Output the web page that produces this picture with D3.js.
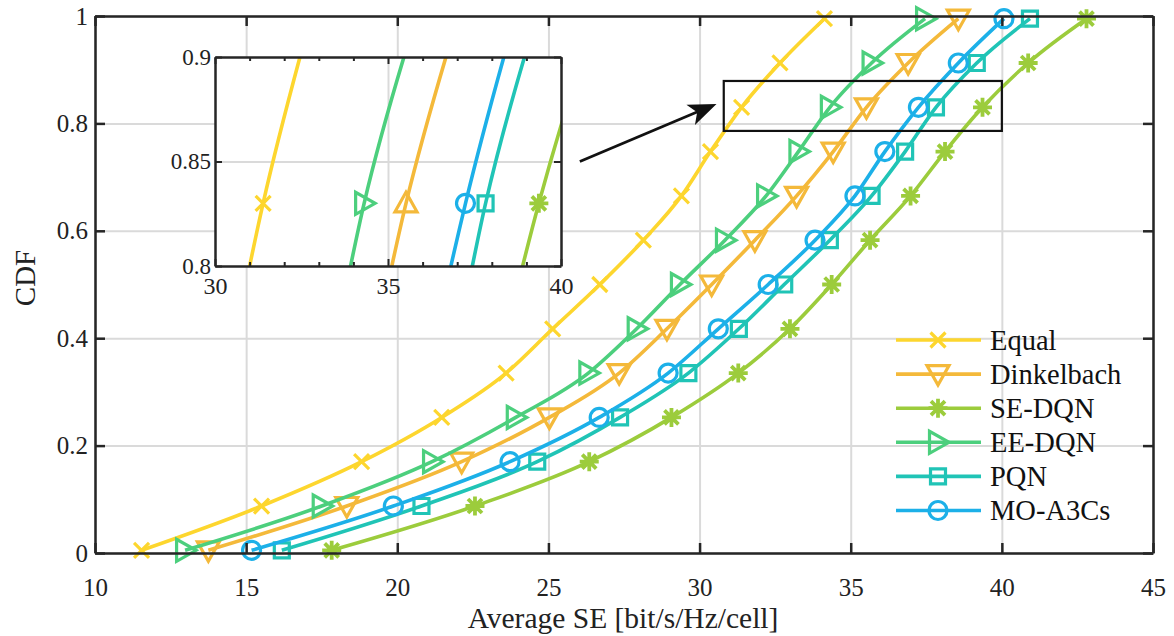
<!DOCTYPE html>
<html>
<head>
<meta charset="utf-8">
<script src="https://cdn.jsdelivr.net/npm/d3@7"></script>
<style>
  body { margin: 0; background: #fff; }
  svg { display: block; font-family: "Liberation Serif", "Times New Roman", serif; }
</style>
</head>
<body>
<div id="chart"></div>
<script>
// CDF level of each plotted marker
var cdfLevels = [0.005, 0.0875, 0.17, 0.2525, 0.335, 0.4175, 0.5, 0.5825, 0.665, 0.7475, 0.83, 0.9125, 0.995];

// Average SE at each level, one array per scheme
var equalSE      = [11.54, 15.51, 18.82, 21.47, 23.6, 25.14, 26.7, 28.14, 29.4, 30.36, 31.39, 32.66, 34.13];
var dinkelbachSE = [13.75, 18.33, 22.13, 25.03, 27.34, 28.92, 30.4, 31.83, 33.21, 34.42, 35.52, 36.9, 38.56];
var seDqnSE      = [17.83, 22.57, 26.35, 29.07, 31.28, 32.99, 34.37, 35.64, 36.98, 38.12, 39.36, 40.87, 42.8];
var eeDqnSE      = [12.98, 17.5, 21.15, 23.92, 26.32, 27.92, 29.35, 30.84, 32.2, 33.27, 34.31, 35.69, 37.46];
var pqnSE        = [16.18, 20.8, 24.63, 27.37, 29.63, 31.3, 32.8, 34.31, 35.69, 36.8, 37.82, 39.17, 40.93];
var moA3csSE     = [15.18, 19.87, 23.73, 26.68, 28.96, 30.62, 32.27, 33.82, 35.14, 36.13, 37.24, 38.56, 40.07];

var seriesNames = ["Equal", "Dinkelbach", "SE-DQN", "EE-DQN", "PQN", "MO-A3Cs"];
var seriesValues = [equalSE, dinkelbachSE, seDqnSE, eeDqnSE, pqnSE, moA3csSE];
var seriesColors = ["#fdd62e", "#f4b93a", "#9ccc3c", "#4ccf7d", "#20c4b6", "#1cb0e8"];
var seriesMarkers = ["x", "triDown", "asterisk", "triRight", "square", "circle"];
var insetMarkers = ["x", "triUp", "asterisk", "triRight", "square", "circle"];

// tick labels
var xTicks = [10, 15, 20, 25, 30, 35, 40, 45];
var yTicks = [0, 0.2, 0.4, 0.6, 0.8, 1];
var insetXTicks = [30, 35, 40];
var insetXMinor = [31, 32, 33, 34, 36, 37, 38, 39];
var insetYTicks = [0.8, 0.85, 0.9];

// zoomed region and arrow (data coordinates)
var zoomBox = {x0: 30.8, x1: 40.0, y0: 0.786, y1: 0.879};
var arrowFrom = [26.04, 0.729];
var arrowTo = [30.56, 0.836];

var svgWidth = 1174;
var svgHeight = 636;
var margin = {top: 16, right: 21, bottom: 83, left: 95};
var width = svgWidth - margin.left - margin.right;
var height = svgHeight - margin.top - margin.bottom;

var svg = d3.select("#chart")
  .append("svg")
  .attr("width", svgWidth)
  .attr("height", svgHeight);

var plot = svg.append("g")
  .attr("transform", `translate(${margin.left}, ${margin.top})`);

var x = d3.scaleLinear().domain([10, 45]).range([0, width]);
var y = d3.scaleLinear().domain([0, 1]).range([height, 0]);

var axisColor = "#262626";
var gridColor = "#dadada";
var lineWidth = 3.6;
var markerStroke = 3.2;

// grid
plot.append("g")
  .call(d3.axisBottom(x).tickValues(xTicks).tickSize(height).tickFormat(""))
  .call(g => g.select(".domain").remove())
  .selectAll("line").attr("stroke", gridColor).attr("stroke-width", 2);
plot.append("g")
  .call(d3.axisLeft(y).tickValues(yTicks).tickSize(-width).tickFormat(""))
  .call(g => g.select(".domain").remove())
  .selectAll("line").attr("stroke", gridColor).attr("stroke-width", 2);

function markerPath(type) {
  switch (type) {
    case "x": return "M-7.5,-7.5L7.5,7.5M-7.5,7.5L7.5,-7.5";
    case "asterisk": return "M-9.5,0L9.5,0M0,-9.5L0,9.5M-7,-7L7,7M-7,7L7,-7";
    case "triDown": return "M-11,-8.5L11,-8.5L0,11Z";
    case "triUp": return "M-11,8.5L11,8.5L0,-11Z";
    case "triRight": return "M-8.5,-11L-8.5,11L11,0Z";
    case "square": return "M-7.5,-7.5H7.5V7.5H-7.5Z";
    case "circle": return "M9,0A9,9,0,1,1,-9,0A9,9,0,1,1,9,0Z";
  }
}

function drawSeries(g, xs, ys, values, color, marker, showMarkers) {
  var pts = values.map((v, i) => [v, cdfLevels[i]]);
  var line = d3.line()
    .x(d => xs(d[0]))
    .y(d => ys(d[1]))
    .curve(d3.curveMonotoneX);
  g.append("path")
    .datum(pts)
    .attr("d", line)
    .attr("fill", "none")
    .attr("stroke", color)
    .attr("stroke-width", lineWidth);
  g.selectAll(null)
    .data(pts.filter((d, i) => showMarkers(i)))
    .enter()
    .append("path")
    .attr("d", markerPath(marker))
    .attr("transform", d => `translate(${xs(d[0])}, ${ys(d[1])})`)
    .attr("fill", "none")
    .attr("stroke", color)
    .attr("stroke-width", marker === "asterisk" ? 3.8 : markerStroke);
}

// series
seriesValues.forEach(function(vals, i) {
  drawSeries(plot, x, y, vals, seriesColors[i], seriesMarkers[i], () => true);
});

// axes box with inward ticks
function styleAxis(g) {
  g.select(".domain").attr("stroke", axisColor).attr("stroke-width", 2.5);
  g.selectAll(".tick line").attr("stroke", axisColor).attr("stroke-width", 2.5);
  g.selectAll("text").attr("fill", "#222").style("font-size", "25px")
    .style("font-family", "'Liberation Serif', 'Times New Roman', serif");
}

plot.append("g")
  .attr("transform", `translate(0, ${height})`)
  .call(d3.axisBottom(x).tickValues(xTicks).tickSize(-10).tickSizeOuter(0).tickPadding(25))
  .call(styleAxis);
plot.append("g")
  .call(d3.axisTop(x).tickValues(xTicks).tickSize(-10).tickSizeOuter(0).tickFormat(""))
  .call(styleAxis);
plot.append("g")
  .call(d3.axisLeft(y).tickValues(yTicks).tickSize(-10).tickSizeOuter(0).tickPadding(7).tickFormat(d3.format("~g")))
  .call(styleAxis);
plot.append("g")
  .attr("transform", `translate(${width}, 0)`)
  .call(d3.axisRight(y).tickValues(yTicks).tickSize(-10).tickSizeOuter(0).tickFormat(""))
  .call(styleAxis);

// axis labels
svg.append("text")
  .attr("x", 623)
  .attr("y", 628)
  .attr("text-anchor", "middle")
  .style("font-size", "29.5px")
  .attr("fill", "#222")
  .text("Average SE [bit/s/Hz/cell]");
svg.append("text")
  .attr("transform", "translate(35, 278) rotate(-90)")
  .attr("text-anchor", "middle")
  .style("font-size", "29px")
  .attr("fill", "#222")
  .text("CDF");

// zoom box and arrow
plot.append("rect")
  .attr("x", x(zoomBox.x0))
  .attr("y", y(zoomBox.y1))
  .attr("width", x(zoomBox.x1) - x(zoomBox.x0))
  .attr("height", y(zoomBox.y0) - y(zoomBox.y1))
  .attr("fill", "none")
  .attr("stroke", "#111")
  .attr("stroke-width", 2.2);

var ax1 = x(arrowFrom[0]), ay1 = y(arrowFrom[1]);
var ax2 = x(arrowTo[0]), ay2 = y(arrowTo[1]);
plot.append("line")
  .attr("x1", ax1).attr("y1", ay1)
  .attr("x2", ax2 - 10).attr("y2", ay2 + 4)
  .attr("stroke", "#111")
  .attr("stroke-width", 2.8);
plot.append("path")
  .attr("d", "M0,0L-28,-11L-21,0L-28,11Z")
  .attr("transform", `translate(${ax2}, ${ay2}) rotate(${Math.atan2(ay2 - ay1, ax2 - ax1) * 180 / Math.PI})`)
  .attr("fill", "#111");

// legend
var legend = plot.append("g").attr("transform", `translate(${896 - margin.left}, ${340 - margin.top})`);
seriesNames.forEach(function(name, i) {
  var row = legend.append("g").attr("transform", `translate(0, ${i * 34.1})`);
  row.append("line")
    .attr("x1", 0).attr("x2", 85)
    .attr("stroke", seriesColors[i])
    .attr("stroke-width", lineWidth);
  row.append("path")
    .attr("d", markerPath(seriesMarkers[i]))
    .attr("transform", "translate(42, 0)")
    .attr("fill", "none")
    .attr("stroke", seriesColors[i])
    .attr("stroke-width", seriesMarkers[i] === "asterisk" ? 3.8 : markerStroke);
  row.append("text")
    .attr("x", 94)
    .attr("dy", "0.35em")
    .style("font-size", "28.5px")
    .attr("fill", "#111")
    .text(name);
});

// inset
var inset = {left: 215, top: 57, right: 561, bottom: 266};
var ix = d3.scaleLinear().domain([30, 40]).range([inset.left, inset.right]);
var iy = d3.scaleLinear().domain([0.8, 0.9]).range([inset.bottom, inset.top]);
var ig = svg.append("g");

ig.append("rect")
  .attr("x", inset.left).attr("y", inset.top)
  .attr("width", inset.right - inset.left)
  .attr("height", inset.bottom - inset.top)
  .attr("fill", "#fff");

ig.append("g")
  .attr("transform", `translate(0, ${inset.top})`)
  .call(d3.axisBottom(ix).tickValues([35]).tickSize(inset.bottom - inset.top).tickFormat(""))
  .call(g => g.select(".domain").remove())
  .selectAll("line").attr("stroke", gridColor).attr("stroke-width", 2);
ig.append("g")
  .attr("transform", `translate(${inset.left}, 0)`)
  .call(d3.axisLeft(iy).tickValues([0.85]).tickSize(-(inset.right - inset.left)).tickFormat(""))
  .call(g => g.select(".domain").remove())
  .selectAll("line").attr("stroke", gridColor).attr("stroke-width", 2);

svg.append("clipPath").attr("id", "insetClip")
  .append("rect")
  .attr("x", inset.left).attr("y", inset.top)
  .attr("width", inset.right - inset.left)
  .attr("height", inset.bottom - inset.top);

var insetData = ig.append("g").attr("clip-path", "url(#insetClip)");
seriesValues.forEach(function(vals, i) {
  drawSeries(insetData, ix, iy, vals, seriesColors[i], insetMarkers[i], idx => cdfLevels[idx] === 0.83);
});

function styleInset(size) {
  return function(g) {
    g.select(".domain").attr("stroke", axisColor).attr("stroke-width", 2.5);
    g.selectAll(".tick line").attr("stroke", axisColor).attr("stroke-width", 2);
    g.selectAll("text").attr("fill", "#222").style("font-size", size)
      .style("font-family", "'Liberation Serif', 'Times New Roman', serif");
  };
}

// minor ticks on inset
[inset.bottom, inset.top].forEach(function(yy, k) {
  ig.append("g")
    .attr("transform", `translate(0, ${yy})`)
    .call((k === 0 ? d3.axisBottom(ix) : d3.axisTop(ix)).tickValues(insetXMinor).tickSize(-4).tickFormat(""))
    .call(g => g.select(".domain").remove())
    .selectAll("line").attr("stroke", axisColor).attr("stroke-width", 2);
});

ig.append("g")
  .attr("transform", `translate(0, ${inset.bottom})`)
  .call(d3.axisBottom(ix).tickValues(insetXTicks).tickSize(-7).tickSizeOuter(0).tickPadding(11))
  .call(styleInset("24px"));
ig.append("g")
  .attr("transform", `translate(0, ${inset.top})`)
  .call(d3.axisTop(ix).tickValues(insetXTicks).tickSize(-7).tickSizeOuter(0).tickFormat(""))
  .call(styleInset("24px"));
ig.append("g")
  .attr("transform", `translate(${inset.left}, 0)`)
  .call(d3.axisLeft(iy).tickValues(insetYTicks).tickSize(-7).tickSizeOuter(0).tickPadding(4).tickFormat(d3.format("~g")))
  .call(styleInset("23px"));
ig.append("g")
  .attr("transform", `translate(${inset.right}, 0)`)
  .call(d3.axisRight(iy).tickValues(insetYTicks).tickSize(-7).tickSizeOuter(0).tickFormat(""))
  .call(styleInset("24px"));
</script>
</body>
</html>
